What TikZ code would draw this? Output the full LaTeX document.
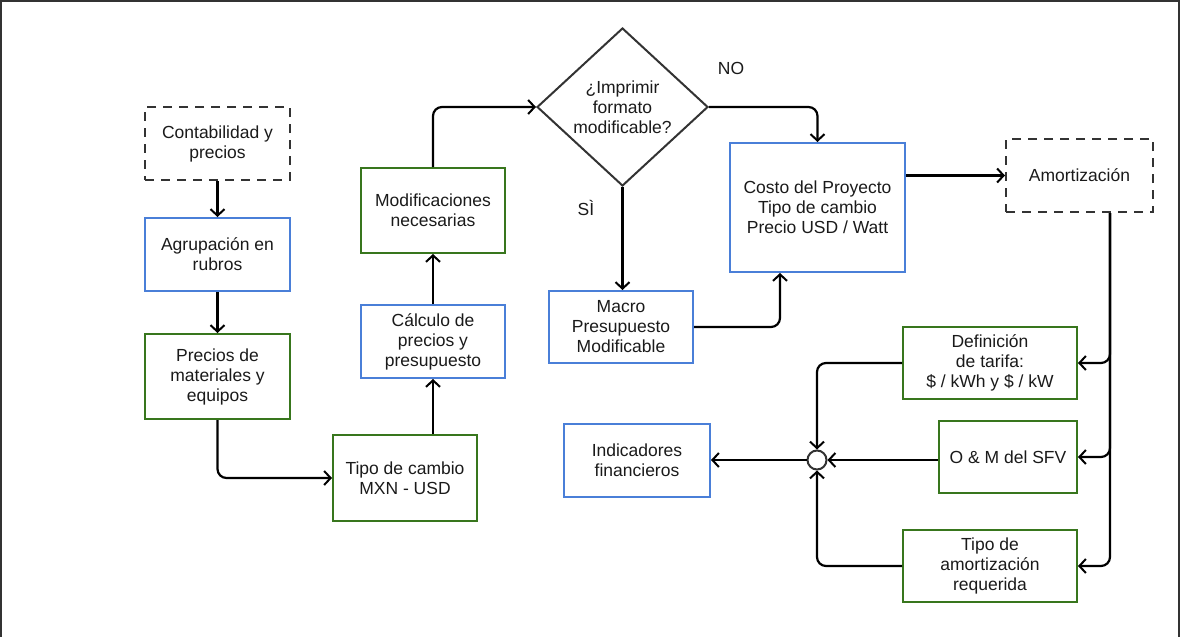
\documentclass[tikz,border=0pt]{standalone}
\usepackage{fontspec}
\setmainfont{Liberation Sans}
\usetikzlibrary{shapes.geometric,arrows.meta,calc}
\definecolor{boxblue}{HTML}{4A7FD8}
\definecolor{boxgreen}{HTML}{38761D}
\definecolor{ink}{HTML}{1A1A1A}
\definecolor{edge}{HTML}{333333}
\tikzset{
  base/.style={rectangle, draw, line width=2pt, align=center, inner sep=2pt,
    text=ink, font=\fontsize{17.5}{20}\selectfont},
  bluebox/.style={base, draw=boxblue},
  greenbox/.style={base, draw=boxgreen},
  dashbox/.style={base, draw=edge, dash pattern=on 9pt off 7pt},
  flow/.style={line width=2.2pt, draw=black, rounded corners=9pt,
    -{Straight Barb[length=6.5pt,width=14pt,line width=2pt]}},
  lbl/.style={text=ink, font=\fontsize{17.5}{20}\selectfont}
}
\begin{document}
\begin{tikzpicture}[x=1pt,y=-1pt]
\useasboundingbox (0,0) rectangle (1181,637);
% outer frame
\draw[edge, line width=2pt] (1,637) -- (1,1) -- (1179,1) -- (1179,637);

% left column
\node[dashbox, minimum width=145pt, minimum height=73pt] (cont) at (217.5,143.5) {Contabilidad y\\precios};
\node[bluebox, minimum width=145pt, minimum height=73pt] (agr) at (217.5,254.5) {Agrupación en\\rubros};
\node[greenbox, minimum width=145pt, minimum height=85pt] (prec) at (217.5,376.5) {Precios de\\materiales y\\equipos};

% second column
\node[greenbox, minimum width=144pt, minimum height=86pt] (tipo) at (405,478) {Tipo de cambio\\MXN - USD};
\node[bluebox, minimum width=144pt, minimum height=73pt] (calc) at (433,341.5) {Cálculo de\\precios y\\presupuesto};
\node[greenbox, minimum width=144pt, minimum height=85pt] (modif) at (433,210.5) {Modificaciones\\necesarias};

% decision
\node[diamond, draw=edge, line width=2pt, inner sep=0pt, aspect=1.08,
  minimum width=171pt, minimum height=158pt, align=center, text=ink,
  font=\fontsize{17.5}{20}\selectfont] (dia) at (622.5,107) {¿Imprimir\\formato\\modificable?};
\node[lbl] (no) at (731,68) {NO};
\node[lbl] (si) at (586,208) {SÌ};

\node[bluebox, minimum width=144pt, minimum height=72pt] (macro) at (621,327) {Macro\\Presupuesto\\Modificable};
\node[bluebox, minimum width=175pt, minimum height=129pt] (costo) at (817.5,207.5) {Costo del Proyecto\\Tipo de cambio\\Precio USD / Watt};
\node[dashbox, minimum width=147pt, minimum height=73pt] (amort) at (1079.5,175.5) {Amortización};

% right column
\node[greenbox, minimum width=174pt, minimum height=72pt] (defin) at (990,363) {Definición\\de tarifa:\\\$ / kWh y \$ / kW};
\node[greenbox, minimum width=138pt, minimum height=72pt] (om) at (1008,457) {O \& M del SFV};
\node[greenbox, minimum width=174pt, minimum height=72pt] (tipoam) at (990,566) {Tipo de\\amortización\\requerida};

% junction and result
\node[circle, draw=edge, line width=2pt, fill=white, minimum size=19pt, inner sep=0pt] (junc) at (817,460) {};
\node[bluebox, minimum width=146pt, minimum height=73pt] (indic) at (637,460) {Indicadores\\financieros};

% connectors
\draw[flow] (cont.south) -- (agr.north);
\draw[flow] (agr.south) -- (prec.north);
\draw[flow] (prec.south) |- (tipo.west);
\draw[flow] (calc.south |- tipo.north) -- (calc.south);
\draw[flow] (calc.north) -- (modif.south);
\draw[flow] (modif.north) |- (dia.west);
\draw[flow] (dia.east) -| (costo.north);
\draw[flow] (dia.south) -- (dia.south |- macro.north);
\draw[flow] (macro.east) -| ([xshift=-37.5pt]costo.south);
\draw[flow] (costo.east |- amort.west) -- (amort.west);
\coordinate (trunk) at ([xshift=30.5pt]amort.south);
\draw[flow] (trunk) |- (defin.east);
\draw[flow] (trunk) |- (om.east);
\draw[flow] (trunk) |- (tipoam.east);
\draw[flow] (defin.west) -| (junc.north);
\draw[flow] (om.west |- junc.east) -- (junc.east);
\draw[flow] (tipoam.west) -| (junc.south);
\draw[flow] (junc.west) -- (indic.east);
\end{tikzpicture}
\end{document}
